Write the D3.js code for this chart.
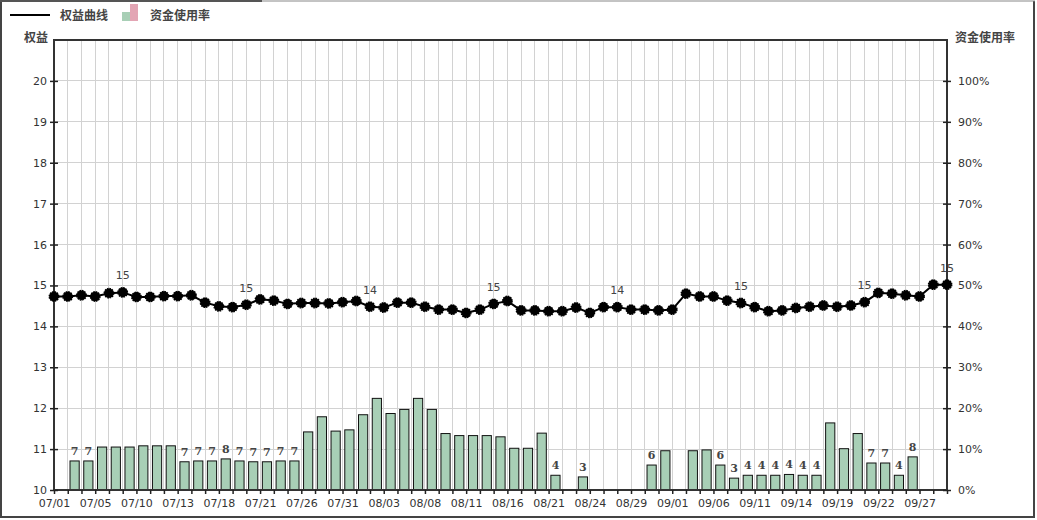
<!DOCTYPE html>
<html><head><meta charset="utf-8">
<script src="https://cdn.jsdelivr.net/npm/d3@7/dist/d3.min.js"></script>
<style>body{margin:0;background:#fff}svg{display:block}</style>
</head><body>
<svg id="c" width="1037" height="520"></svg>
<script>
// ---- data ----
const xTickLabels = ["07/01","07/05","07/10","07/13","07/18","07/21","07/26","07/31","08/03","08/08","08/11","08/16","08/21","08/24","08/29","09/01","09/06","09/11","09/14","09/19","09/22","09/27"];
const xTickEvery = 3;
const equity = [14.73,14.73,14.76,14.73,14.81,14.83,14.72,14.72,14.74,14.74,
  14.76,14.58,14.49,14.47,14.53,14.66,14.63,14.55,14.57,14.57,
  14.56,14.59,14.62,14.48,14.46,14.58,14.58,14.48,14.41,14.41,
  14.33,14.41,14.55,14.62,14.39,14.39,14.37,14.37,14.46,14.33,
  14.47,14.47,14.41,14.41,14.39,14.41,14.80,14.73,14.73,14.63,
  14.57,14.47,14.37,14.39,14.45,14.48,14.51,14.48,14.51,14.59,
  14.82,14.80,14.76,14.73,15.02,15.02];
const equityLabelIdx = [5,14,23,32,41,50,59,65];
const usage = [0,7.1,7.1,10.5,10.5,10.5,10.8,10.8,10.8,6.9,
  7.1,7.1,7.6,7.1,6.9,6.9,7.1,7.1,14.2,17.9,
  14.4,14.7,18.4,22.4,18.7,19.7,22.4,19.7,13.8,13.3,
  13.3,13.3,13.0,10.2,10.2,13.9,3.6,0,3.2,0,
  0,0,0,6.1,9.6,0,9.6,9.8,6.1,2.9,
  3.6,3.6,3.6,3.8,3.6,3.6,16.4,10.1,13.8,6.6,
  6.6,3.6,8.1,0,0];
const leftTicks = [10,11,12,13,14,15,16,17,18,19,20];
const rightTicks = [0,10,20,30,40,50,60,70,80,90,100];
const legendNames = ["权益曲线","资金使用率"];
const axisTitles = ["权益","资金使用率"];

// ---- layout ----
const W=1037,H=520, L=54, R=947, T=40, B=490;
const svg=d3.select("#c");
const font="'DejaVu Sans', Verdana, sans-serif";
const cjk="'Noto Sans CJK SC', sans-serif";

const x=d3.scaleLinear().domain([0,equity.length-1]).range([L,R]);
const step=x(1)-x(0);
const yL=d3.scaleLinear().domain([10,21]).range([B,T]);
const yR=d3.scaleLinear().domain([0,110]).range([B,T]);

// outer frame
svg.append("line").attr("x1",1).attr("x2",1).attr("y1",1).attr("y2",H-3).attr("stroke","#444").attr("stroke-width",2);
svg.append("line").attr("x1",W-3).attr("x2",W-3).attr("y1",1).attr("y2",H-3).attr("stroke","#444").attr("stroke-width",2);
svg.append("line").attr("x1",0).attr("x2",W-2).attr("y1",H-3).attr("y2",H-3).attr("stroke","#444").attr("stroke-width",2);
svg.append("line").attr("x1",0).attr("x2",262).attr("y1",1).attr("y2",1).attr("stroke","#555").attr("stroke-width",2);
svg.append("line").attr("x1",262).attr("x2",W-2).attr("y1",1).attr("y2",1).attr("stroke","#888").attr("stroke-width",1);

// grid
const g=svg.append("g");
g.selectAll("line.v").data(d3.range(equity.length)).join("line")
  .attr("x1",d=>x(d)).attr("x2",d=>x(d)).attr("y1",T).attr("y2",B)
  .attr("stroke","#d2d2d2").attr("stroke-width",1).attr("shape-rendering","crispEdges");
g.selectAll("line.h").data(leftTicks).join("line")
  .attr("x1",L).attr("x2",R).attr("y1",d=>yL(d)).attr("y2",d=>yL(d))
  .attr("stroke","#d2d2d2").attr("stroke-width",1).attr("shape-rendering","crispEdges");

// bars
const bw=9.2;
svg.append("g").selectAll("rect").data(usage.map((v,i)=>({v,i})).filter(d=>d.v>0)).join("rect")
  .attr("x",d=>x(d.i)+step/2-bw/2).attr("width",bw)
  .attr("y",d=>yR(d.v)).attr("height",d=>B-yR(d.v))
  .attr("fill","#a8cfb6").attr("stroke","#111").attr("stroke-width",1);
svg.append("g").selectAll("text").data(usage.map((v,i)=>({v,i})).filter(d=>d.v>0&&d.v<9)).join("text")
  .attr("x",d=>x(d.i)+step/2).attr("y",d=>yR(d.v)-6)
  .attr("text-anchor","middle").attr("font-family","'DejaVu Serif', serif").attr("font-weight","bold")
  .attr("font-size",11).attr("fill","#444").text(d=>Math.round(d.v));

// axes
const axisG=svg.append("g");
const frameColor="#333";
axisG.append("line").attr("x1",L).attr("x2",R).attr("y1",T).attr("y2",T).attr("stroke",frameColor).attr("stroke-width",2);
axisG.append("line").attr("x1",L).attr("x2",R).attr("y1",B).attr("y2",B).attr("stroke",frameColor).attr("stroke-width",2);
axisG.append("line").attr("x1",L).attr("x2",L).attr("y1",T-1).attr("y2",B+1).attr("stroke",frameColor).attr("stroke-width",2);
axisG.append("line").attr("x1",R).attr("x2",R).attr("y1",T-1).attr("y2",B+1).attr("stroke",frameColor).attr("stroke-width",2);

const left=d3.axisLeft(yL).tickValues(leftTicks).tickSize(0).tickPadding(7).tickFormat(d3.format("d"));
const lg=svg.append("g").attr("transform",`translate(${L},0)`).call(left);
lg.select(".domain").remove();
lg.selectAll("text").attr("font-family",font).attr("font-size",11).attr("fill","#333");
lg.selectAll(".tick").append("line").attr("x1",-4).attr("x2",4).attr("stroke","#222").attr("stroke-width",1.5);

const right=d3.axisRight(yR).tickValues(rightTicks).tickSize(0).tickPadding(11).tickFormat(d=>d+"%");
const rg=svg.append("g").attr("transform",`translate(${R},0)`).call(right);
rg.select(".domain").remove();
rg.selectAll("text").attr("font-family",font).attr("font-size",11).attr("fill","#333");
rg.selectAll(".tick").append("line").attr("x1",-4).attr("x2",4).attr("stroke","#222").attr("stroke-width",1.5);

const bottom=d3.axisBottom(x).tickValues(d3.range(equity.length)).tickSize(0).tickPadding(9)
  .tickFormat(d=> d%xTickEvery===0 && xTickLabels[d/xTickEvery] ? xTickLabels[d/xTickEvery] : "");
const bg=svg.append("g").attr("transform",`translate(0,${B})`).call(bottom);
bg.select(".domain").remove();
bg.selectAll("text").attr("font-family",font).attr("font-size",11).attr("fill","#333");
bg.selectAll(".tick").append("line").attr("y1",0).attr("y2",4).attr("stroke","#222").attr("stroke-width",1.5);

// equity line
svg.append("path").datum(equity)
  .attr("d",d3.line().x((d,i)=>x(i)).y(d=>yL(d)))
  .attr("fill","none").attr("stroke","#000").attr("stroke-width",2);
svg.append("g").selectAll("circle").data(equity).join("circle")
  .attr("cx",(d,i)=>x(i)).attr("cy",d=>yL(d)).attr("r",4.8)
  .attr("fill","#000").attr("stroke","#000").attr("stroke-width",1.3).attr("stroke-dasharray","1.6 0.9");
svg.append("g").selectAll("text").data(equityLabelIdx).join("text")
  .attr("x",i=>x(i)).attr("y",i=>yL(equity[i])-13)
  .attr("text-anchor","middle").attr("font-family",font).attr("font-size",11).attr("fill","#444")
  .text(i=>Math.round(equity[i]));

// axis titles
svg.append("text").attr("x",24).attr("y",42).attr("font-family",cjk).attr("font-size",12).attr("font-weight","bold").attr("fill","#444").text(axisTitles[0]);
svg.append("text").attr("x",955).attr("y",42).attr("font-family",cjk).attr("font-size",12).attr("font-weight","bold").attr("fill","#444").text(axisTitles[1]);

// legend
svg.append("line").attr("x1",10).attr("x2",50).attr("y1",15).attr("y2",15).attr("stroke","#000").attr("stroke-width",2);
svg.append("text").attr("x",60).attr("y",20).attr("font-family",cjk).attr("font-size",12).attr("font-weight","bold").attr("fill","#444").text(legendNames[0]);
svg.append("rect").attr("x",122).attr("y",12).attr("width",8).attr("height",9).attr("fill","#a8cfb6");
svg.append("rect").attr("x",130).attr("y",4).attr("width",8).attr("height",17).attr("fill","#e3a5b4");
svg.append("text").attr("x",150).attr("y",20).attr("font-family",cjk).attr("font-size",12).attr("font-weight","bold").attr("fill","#444").text(legendNames[1]);
</script>
</body></html>
